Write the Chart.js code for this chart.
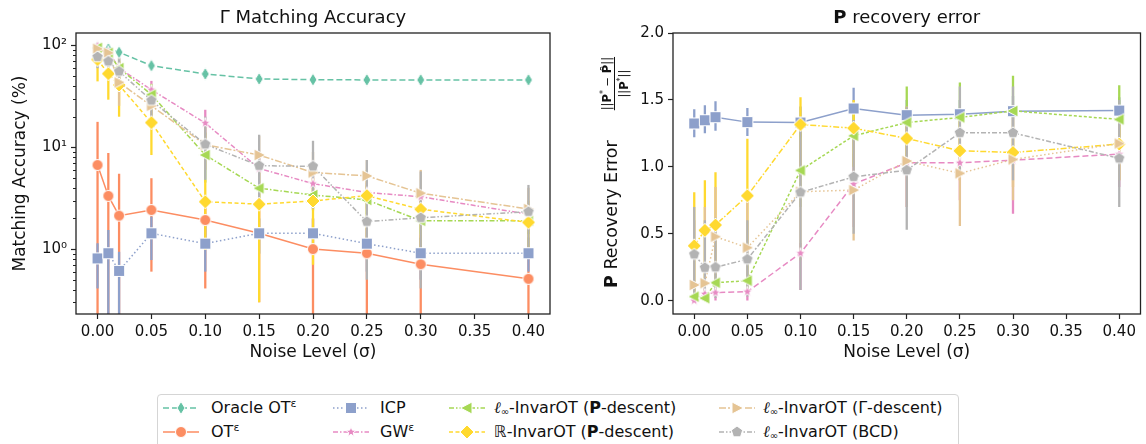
<html>
<head>
<script src="https://cdn.jsdelivr.net/npm/chart.js@4/dist/chart.umd.min.js"></script>
<style>
  body { margin: 0; background: #fff; overflow: hidden; font-family: "DejaVu Sans", sans-serif; }
  #left { position: absolute; left: 0; top: 0; }
  #right { position: absolute; left: 580px; top: 0; }
  #legend { position: absolute; left: 157px; top: 394px; width: 800px; height: 60px;
            border: 1px solid #d5d5d5; border-radius: 4px; }
  .lab { position: absolute; font-size: 16px; line-height: 20px; color: #111; white-space: nowrap; }
  .lab sup { font-size: 11px; vertical-align: 6px; line-height: 0; }
  .lab sub { font-size: 10px; vertical-align: -2px; line-height: 0; font-weight: normal; }
  .lab i { font-family: "DejaVu Serif", serif; font-style: italic; font-weight: normal; }
  .sw { position: absolute; }
</style>
</head>
<body>
<canvas id="left" width="570" height="370"></canvas>
<canvas id="right" width="568" height="370"></canvas>
<div id="legend"></div>
<script>
// noise levels (x values)
const noise = [0, 0.01, 0.02, 0.05, 0.10, 0.15, 0.20, 0.25, 0.30, 0.40];
const logTickValues = [1, 10, 100];
const logTickLabels = ['10\u2070', '10\u00b9', '10\u00b2'];

const seriesNames = ['Oracle OT\u03b5', 'OT\u03b5', 'ICP', 'GW\u03b5',
  '\u2113\u221e-InvarOT (P-descent)', '\u211d-InvarOT (P-descent)',
  '\u2113\u221e-InvarOT (\u0393-descent)', '\u2113\u221e-InvarOT (BCD)'];
const legendMarkup = ['Oracle OT<sup>\u03b5</sup>', 'OT<sup>\u03b5</sup>', 'ICP', 'GW<sup>\u03b5</sup>',
  '<i>\u2113</i><sub>\u221e</sub>-InvarOT (<b>P</b>-descent)', '\u211d-InvarOT (<b>P</b>-descent)',
  '<i>\u2113</i><sub>\u221e</sub>-InvarOT (\u0393-descent)', '<i>\u2113</i><sub>\u221e</sub>-InvarOT (BCD)'];

// Gamma matching accuracy (%), mean / lower / upper
const oracleAcc = [96, 92.7, 86, 63.5, 52.6, 47, 46.2, 46, 46, 46];
const oracleLo  = [90, 88, 80, 60, 50, 45, 44, 44, 44, 44];
const oracleHi  = [100, 97, 92, 67, 55, 49, 48, 48, 48, 48];
const otAcc = [6.7, 3.33, 2.13, 2.42, 1.93, 1.43, 1.0, 0.91, 0.71, 0.51];
const otLo  = [0.1, 0.1, 0.1, 0.6, 0.41, 0.30, 0.1, 0.1, 0.1, 0.1];
const otHi  = [17.8, 8.8, 5.5, 4.97, 3.0, 2.5, 2.0, 1.6, 1.4, 1.0];
const icpAcc = [0.81, 0.91, 0.61, 1.43, 1.13, 1.43, 1.43, 1.13, 0.91, 0.91];
const icpLo  = [0.41, 0.1, 0.1, 0.78, 0.6, 0.9, 0.9, 0.6, 0.5, 0.6];
const icpHi  = [1.14, 1.54, 0.94, 2.08, 1.7, 2.0, 2.0, 1.6, 1.3, 1.3];
const gwAcc = [100, 88, 60, 36.8, 17.3, 6.2, 4.4, 3.6, 3.27, 2.2];
const gwLo  = [95, 75, 45, 28, 12, 4.5, 3.5, 2.8, 2.6, 1.8];
const gwHi  = [100, 98, 80, 45, 23.4, 8.5, 5.5, 4.5, 4.0, 2.7];
const linfPAcc = [95, 85, 60, 33, 8.4, 3.96, 3.4, 3.04, 1.9, 1.9];
const linfPLo  = [88, 75, 45, 25, 4.5, 2.5, 2.4, 2.2, 1.4, 1.4];
const linfPHi  = [100, 95, 75, 42, 14, 6.5, 4.8, 4.2, 2.8, 2.6];
const rPAcc = [73, 53, 41, 17.5, 2.92, 2.76, 2.97, 3.35, 2.46, 1.83];
const rPLo  = [44.5, 29.4, 20, 8.4, 0.98, 0.3, 0.7, 1.2, 1.0, 1.0];
const rPHi  = [95, 80, 70, 30, 4.8, 4.5, 5.0, 6.0, 4.0, 3.0];
const linfGAcc = [93, 85, 43.5, 25.6, 10.6, 8.4, 5.65, 5.24, 3.54, 2.48];
const linfGLo  = [80, 65, 25.6, 16, 6, 4, 3.2, 2.5, 2, 1.5];
const linfGHi  = [100, 98, 60, 35, 16, 13, 9, 7.5, 6, 4];
const bcdAcc = [77.4, 70, 55.8, 28.9, 10.7, 6.6, 6.5, 1.86, 2.03, 2.33];
const bcdLo  = [60, 55, 40, 18, 4.8, 3, 2.5, 0.5, 0.41, 1.0];
const bcdHi  = [98, 90, 75, 40, 20, 13.3, 11.6, 7.5, 5.8, 4.27];

// P recovery error, mean / lower / upper
const icpErr = [1.324, 1.348, 1.371, 1.334, 1.331, 1.436, 1.386, 1.393, 1.416, 1.42];
const icpErrLo = [1.22, 1.25, 1.27, 1.23, 1.22, 1.30, 1.28, 1.28, 1.30, 1.30];
const icpErrHi = [1.43, 1.46, 1.49, 1.44, 1.45, 1.59, 1.50, 1.50, 1.53, 1.52];
const gwErr = [0.0, 0.05, 0.06, 0.067, 0.354, 0.871, 1.03, 1.03, 1.05, 1.095];
const gwErrLo = [0, 0, 0, 0, 0.08, 0.55, 0.7, 0.75, 0.65, 0.85];
const gwErrHi = [0.01, 0.1, 0.12, 0.14, 0.43, 1.1, 1.3, 1.3, 1.4, 1.3];
const linfPErr = [0.03, 0.018, 0.134, 0.149, 0.973, 1.232, 1.331, 1.369, 1.418, 1.354];
const linfPErrLo = [0, 0, 0.05, 0.05, 0.7, 1.0, 1.05, 1.1, 1.15, 1.1];
const linfPErrHi = [0.1, 0.05, 0.2, 0.3, 1.25, 1.45, 1.6, 1.63, 1.68, 1.61];
const rPErr = [0.41, 0.525, 0.565, 0.784, 1.316, 1.289, 1.212, 1.12, 1.107, 1.17];
const rPErrLo = [0.05, 0.15, 0.2, 0.4, 1.0, 1.0, 0.95, 0.9, 0.85, 0.9];
const rPErrHi = [0.81, 0.9, 0.96, 1.21, 1.52, 1.5, 1.45, 1.35, 1.3, 1.35];
const linfGErr = [0.117, 0.13, 0.478, 0.396, 0.814, 0.826, 1.043, 0.951, 1.055, 1.174];
const linfGErrLo = [0, 0, 0.1, 0.05, 0.3, 0.45, 0.7, 0.557, 0.75, 0.9];
const linfGErrHi = [0.6, 0.7, 0.85, 0.8, 1.2, 1.2, 1.35, 1.35, 1.4, 1.4];
const bcdErr = [0.346, 0.246, 0.249, 0.309, 0.809, 0.925, 0.975, 1.254, 1.254, 1.063];
const bcdErrLo = [0.0, 0.02, 0.02, 0.03, 0.08, 0.5, 0.53, 0.95, 0.9, 0.70];
const bcdErrHi = [0.70, 0.6, 0.62, 0.6, 1.3, 1.35, 1.45, 1.6, 1.6, 1.5];

// styles
const colors = ['#66c2a5', '#fc8d62', '#8da0cb', '#e78ac3', '#a6d854', '#ffd92f', '#e5c494', '#b3b3b3'];
const shapes = ['thinDiamond', 'circle', 'square', 'star', 'triLeft', 'diamond', 'triRight', 'pentagon'];
const dashLeft = [[6, 3], [], [1.5, 2.5], [5, 2, 1.5, 2], [5, 2, 1.5, 2], [4, 2.5], [7, 2, 2, 2], [5, 2, 1.5, 2, 1.5, 2]];
const dashRight = [[6, 3], [], [], [6, 3], [3, 2], [6, 2, 1.5, 2], [1.5, 2.5], [5, 2, 2, 2]];

const FONT = '"DejaVu Sans", sans-serif';
const INK = '#111';
Chart.defaults.font.family = FONT;
Chart.defaults.color = INK;

function marker(shape, color) {
  const s = 18, c = s / 2;
  const cv = document.createElement('canvas');
  cv.width = s; cv.height = s;
  const g = cv.getContext('2d');
  const poly = pts => {
    g.moveTo(c + pts[0][0], c + pts[0][1]);
    pts.slice(1).forEach(p => g.lineTo(c + p[0], c + p[1]));
    g.closePath();
  };
  const radial = (n, r1, r2, rot) => {
    const pts = [];
    const k = r2 ? 2 * n : n;
    for (let i = 0; i < k; i++) {
      const a = rot + i * 2 * Math.PI / k;
      const r = (r2 && i % 2) ? r2 : r1;
      pts.push([r * Math.cos(a), r * Math.sin(a)]);
    }
    return pts;
  };
  g.beginPath();
  if (shape === 'circle') g.arc(c, c, 5.5, 0, 2 * Math.PI);
  else if (shape === 'square') g.rect(c - 5.5, c - 5.5, 11, 11);
  else if (shape === 'diamond') poly([[0, -7], [7, 0], [0, 7], [-7, 0]]);
  else if (shape === 'thinDiamond') poly([[0, -6.5], [4, 0], [0, 6.5], [-4, 0]]);
  else if (shape === 'triLeft') poly([[-6.5, 0], [5, -6], [5, 6]]);
  else if (shape === 'triRight') poly([[6.5, 0], [-5, -6], [-5, 6]]);
  else if (shape === 'star') poly(radial(5, 5.5, 2.3, -Math.PI / 2));
  else if (shape === 'pentagon') poly(radial(5, 6, 0, -Math.PI / 2));
  g.fillStyle = color; g.fill();
  g.strokeStyle = '#fff'; g.lineWidth = 1; g.stroke();
  return cv;
}
const markers = colors.map((col, i) => marker(shapes[i], col));

function series(i, values, lo, hi, dash) {
  return {
    label: seriesNames[i],
    data: values.map((v, j) => ({x: noise[j], y: v})),
    lo: lo, hi: hi,
    borderColor: colors[i], backgroundColor: colors[i],
    borderWidth: 1.5, borderDash: dash,
    pointStyle: markers[i], pointRadius: 6, pointHoverRadius: 6,
    order: 8 - i
  };
}

// shared plugins
const frame = {
  id: 'frame',
  afterDatasetsDraw(chart) {
    const {ctx, chartArea: a} = chart;
    ctx.save();
    ctx.strokeStyle = '#222'; ctx.lineWidth = 1.3;
    ctx.strokeRect(a.left, a.top, a.right - a.left, a.bottom - a.top);
    ctx.restore();
  }
};
const errorBars = {
  id: 'errorBars',
  beforeDatasetsDraw(chart) {
    const {ctx, chartArea: a, scales: {x, y}} = chart;
    ctx.save();
    ctx.beginPath(); ctx.rect(a.left, a.top, a.right - a.left, a.bottom - a.top); ctx.clip();
    chart.data.datasets.forEach(ds => {
      ctx.strokeStyle = ds.borderColor; ctx.lineWidth = 2.3;
      ds.data.forEach((p, i) => {
        const px = x.getPixelForValue(p.x);
        ctx.beginPath();
        ctx.moveTo(px, y.getPixelForValue(ds.lo[i]));
        ctx.lineTo(px, y.getPixelForValue(ds.hi[i]));
        ctx.stroke();
      });
    });
    ctx.restore();
  }
};
function titlePlugin(parts) {
  return {
    id: 'richTitle',
    afterDraw(chart) {
      const {ctx, chartArea: a} = chart;
      ctx.save();
      ctx.fillStyle = INK; ctx.textBaseline = 'middle';
      let w = 0;
      parts.forEach(p => { ctx.font = (p.bold ? 'bold ' : '') + '18px ' + FONT; p.w = ctx.measureText(p.t).width; w += p.w; });
      let x = (a.left + a.right) / 2 - w / 2;
      parts.forEach(p => { ctx.font = (p.bold ? 'bold ' : '') + '18px ' + FONT; ctx.fillText(p.t, x, 18); x += p.w; });
      ctx.restore();
    }
  };
}
const isMajor = v => logTickValues.some(t => Math.abs(v - t) < 1e-6 * t);
const minorTicks = {
  id: 'minorTicks',
  afterDraw(chart) {
    const {ctx, chartArea: a, scales: {y}} = chart;
    ctx.save();
    ctx.strokeStyle = '#222'; ctx.lineWidth = 1;
    for (let e = -1; e <= 2; e++) {
      for (let m = 2; m <= 9; m++) {
        const v = m * Math.pow(10, e);
        if (v < y.min || v > y.max) continue;
        const py = Math.round(y.getPixelForValue(v)) + 0.5;
        ctx.beginPath(); ctx.moveTo(a.left, py); ctx.lineTo(a.left - 3, py); ctx.stroke();
      }
    }
    ctx.restore();
  }
};

function xAxis() {
  return {
    type: 'linear', min: -0.02, max: 0.42,
    ticks: { stepSize: 0.05, includeBounds: false, padding: 4, font: {size: 15}, color: INK,
             callback: v => v.toFixed(2), maxRotation: 0, autoSkip: false },
    grid: { drawOnChartArea: false, drawTicks: true, tickLength: 5, color: '#222', tickWidth: 1.2 },
    border: { display: false },
    title: { display: true, text: 'Noise Level (\u03c3)', font: {size: 17}, color: INK, padding: {top: 0, bottom: 7} },
    afterFit: s => { s.height = 56; }
  };
}

// left: matching accuracy
new Chart(document.getElementById('left'), {
  type: 'line',
  data: { datasets: [
    series(0, oracleAcc, oracleLo, oracleHi, dashLeft[0]),
    series(1, otAcc, otLo, otHi, dashLeft[1]),
    series(2, icpAcc, icpLo, icpHi, dashLeft[2]),
    series(3, gwAcc, gwLo, gwHi, dashLeft[3]),
    series(4, linfPAcc, linfPLo, linfPHi, dashLeft[4]),
    series(5, rPAcc, rPLo, rPHi, dashLeft[5]),
    series(6, linfGAcc, linfGLo, linfGHi, dashLeft[6]),
    series(7, bcdAcc, bcdLo, bcdHi, dashLeft[7])
  ]},
  options: {
    responsive: false, animation: false,
    layout: { padding: {top: 33, right: 20, left: 0, bottom: 0} },
    plugins: { legend: {display: false}, tooltip: {enabled: false} },
    scales: {
      x: xAxis(),
      y: {
        type: 'logarithmic', min: 0.23, max: 133,
        ticks: { autoSkip: false, padding: 4, font: {size: 15}, color: INK,
                 callback: v => { const k = logTickValues.findIndex(t => Math.abs(v - t) < 1e-6 * t); return k >= 0 ? logTickLabels[k] : ''; } },
        grid: { drawOnChartArea: false, drawTicks: true, tickLength: 5, tickWidth: 1.2,
                tickColor: c => isMajor(c.tick.value) ? '#222' : 'rgba(0,0,0,0)' },
        border: { display: false },
        title: { display: true, text: 'Matching Accuracy (%)', font: {size: 17}, color: INK, padding: {top: 10, bottom: 0} },
        afterFit: s => { s.width = 76; }
      }
    }
  },
  plugins: [errorBars, frame, minorTicks, titlePlugin([{t: '\u0393 Matching Accuracy'}])]
});

// right: P recovery error, y title with a fraction drawn by hand
const yTitle = {
  id: 'yTitle',
  afterDraw(chart) {
    const ctx = chart.ctx;
    ctx.save();
    ctx.translate(37, 288);
    ctx.rotate(-Math.PI / 2);
    ctx.fillStyle = INK; ctx.textBaseline = 'alphabetic';
    let x = 0;
    const put = (t, font, dy) => { ctx.font = font; ctx.fillText(t, x, dy); x += ctx.measureText(t).width; };
    put('P', 'bold 17.5px ' + FONT, 0);
    put(' Recovery Error', '17.5px ' + FONT, 0);
    const n = 'normal 11.5px ' + FONT, b = 'bold 11.5px ' + FONT, sm = 'normal 8px ' + FONT;
    const num = [['||', n, 0], ['P', b, 0], ['*', sm, -5], [' \u2212 ', n, 0], ['P\u0302', b, 0], ['||', n, 0]];
    const den = [['||', n, 0], ['P', b, 0], ['*', sm, -5], ['||', n, 0]];
    const width = parts => parts.reduce((s, p) => { ctx.font = p[1]; return s + ctx.measureText(p[0]).width; }, 0);
    const wn = width(num), wd = width(den);
    const x0 = x + 30;
    x = x0; num.forEach(p => put(p[0], p[1], -6 + p[2]));
    x = x0 + (wn - wd) / 2; den.forEach(p => put(p[0], p[1], 11 + p[2]));
    ctx.strokeStyle = INK; ctx.lineWidth = 1;
    ctx.beginPath(); ctx.moveTo(x0, -2.5); ctx.lineTo(x0 + wn, -2.5); ctx.stroke();
    ctx.restore();
  }
};

new Chart(document.getElementById('right'), {
  type: 'line',
  data: { datasets: [
    series(2, icpErr, icpErrLo, icpErrHi, dashRight[2]),
    series(3, gwErr, gwErrLo, gwErrHi, dashRight[3]),
    series(4, linfPErr, linfPErrLo, linfPErrHi, dashRight[4]),
    series(5, rPErr, rPErrLo, rPErrHi, dashRight[5]),
    series(6, linfGErr, linfGErrLo, linfGErrHi, dashRight[6]),
    series(7, bcdErr, bcdErrLo, bcdErrHi, dashRight[7])
  ]},
  options: {
    responsive: false, animation: false,
    layout: { padding: {top: 33, right: 0, left: 0, bottom: 0} },
    plugins: { legend: {display: false}, tooltip: {enabled: false} },
    scales: {
      x: xAxis(),
      y: {
        type: 'linear', min: -0.1, max: 2.0,
        ticks: { stepSize: 0.5, includeBounds: false, padding: 4, font: {size: 15}, color: INK,
                 callback: v => v.toFixed(1) },
        grid: { drawOnChartArea: false, drawTicks: true, tickLength: 5, color: '#222', tickWidth: 1.2 },
        border: { display: false },
        title: { display: false },
        afterFit: s => { s.width = 93; }
      }
    }
  },
  plugins: [errorBars, frame, yTitle, titlePlugin([{t: 'P', bold: true}, {t: ' recovery error'}])]
});

// legend, column-major like the reference
const legend = document.getElementById('legend');
const colSample = [5, 175, 291, 561];
const colText = [53, 222, 336, 605];
const rowMid = [13, 37];
seriesNames.forEach((name, i) => {
  const col = Math.floor(i / 2), row = i % 2;
  const sw = document.createElement('canvas');
  sw.width = 36; sw.height = 18; sw.className = 'sw';
  sw.style.left = colSample[col] + 'px'; sw.style.top = (rowMid[row] - 9) + 'px';
  const g = sw.getContext('2d');
  g.strokeStyle = colors[i]; g.lineWidth = 1.5; g.setLineDash(dashLeft[i]);
  g.beginPath(); g.moveTo(0, 9); g.lineTo(36, 9); g.stroke();
  g.drawImage(markers[i], 18 - 9, 0);
  legend.appendChild(sw);
  const t = document.createElement('div');
  t.className = 'lab'; t.innerHTML = legendMarkup[i];
  t.style.left = colText[col] + 'px'; t.style.top = (rowMid[row] - 10) + 'px';
  legend.appendChild(t);
});
</script>
</body>
</html>
